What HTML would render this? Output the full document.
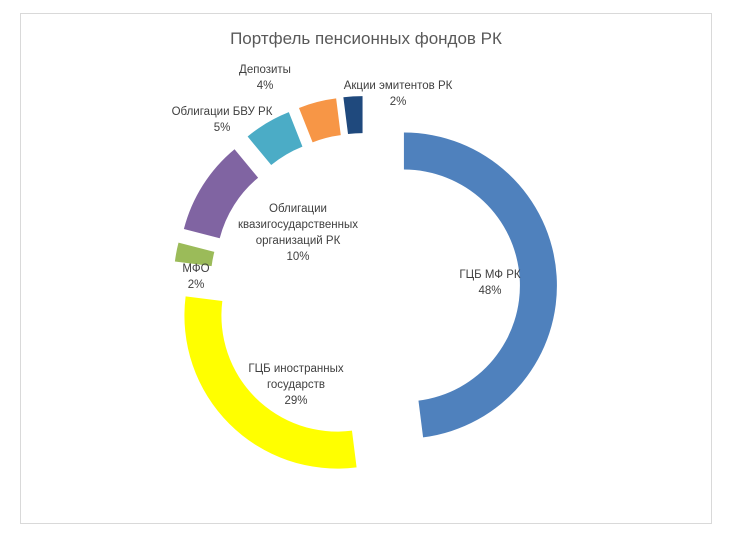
<!DOCTYPE html>
<html><head><meta charset="utf-8"><style>
body{margin:0;background:#fff;}
svg{display:block;font-family:"Liberation Sans","DejaVu Sans",sans-serif;}
</style></head><body>
<svg width="733" height="539">
<rect x="20.5" y="13.5" width="691" height="510" fill="#fff" stroke="#d9d9d9"/>
<text x="366" y="44" text-anchor="middle" font-size="17" fill="#595959">Портфель пенсионных фондов РК</text>
<g id="slices"></g>
<g id="labels" font-size="11.5" fill="#404040" text-anchor="middle"></g>
</svg>
<script>
const categories=["ГЦБ МФ РК","ГЦБ иностранных государств","МФО","Облигации квазигосударственных организаций РК","Облигации БВУ РК","Депозиты","Акции эмитентов РК"];
const values=[48,29,2,10,5,4,2];
const colors=["#4f81bd","#ffff00","#9bbb59","#8064a2","#4bacc6","#f79646","#1f497d"];
const labelLines=[["ГЦБ МФ РК"],["ГЦБ иностранных","государств"],["МФО"],["Облигации","квазигосударственных","организаций РК"],["Облигации БВУ РК"],["Депозиты"],["Акции эмитентов РК"]];
const labelPos=[[490,278],[296,372],[196,272],[298,212],[222,115],[265,73],[398,89]];
const cx=365,cy=288,R=153,r=116,d=39;
const ns="http://www.w3.org/2000/svg";
const total=values.reduce((a,b)=>a+b,0);
function pt(a,rad,ox,oy){return [ox+rad*Math.sin(a),oy-rad*Math.cos(a)];}
let acc=0;
const g=document.getElementById('slices'),lg=document.getElementById('labels');
values.forEach((v,i)=>{
  const a0=acc/total*2*Math.PI;acc+=v;const a1=acc/total*2*Math.PI;
  const mid=(a0+a1)/2;const ox=cx+d*Math.sin(mid),oy=cy-d*Math.cos(mid);
  const p1=pt(a0,R,ox,oy),p2=pt(a1,R,ox,oy),p3=pt(a1,r,ox,oy),p4=pt(a0,r,ox,oy);
  const large=(a1-a0)>Math.PI?1:0;
  const p=document.createElementNS(ns,'path');
  p.setAttribute('d',`M${p1}A${R},${R} 0 ${large} 1 ${p2}L${p3}A${r},${r} 0 ${large} 0 ${p4}Z`);
  p.setAttribute('fill',colors[i]);
  
  
  g.appendChild(p);
  const lines=labelLines[i].concat([v+'%']);
  const t=document.createElementNS(ns,'text');
  
  
  lines.forEach((s,j)=>{const ts=document.createElementNS(ns,'tspan');ts.setAttribute('x',labelPos[i][0]);ts.setAttribute('y',labelPos[i][1]+j*16);ts.textContent=s;t.appendChild(ts);});
  lg.appendChild(t);
});
</script>
</body></html>
